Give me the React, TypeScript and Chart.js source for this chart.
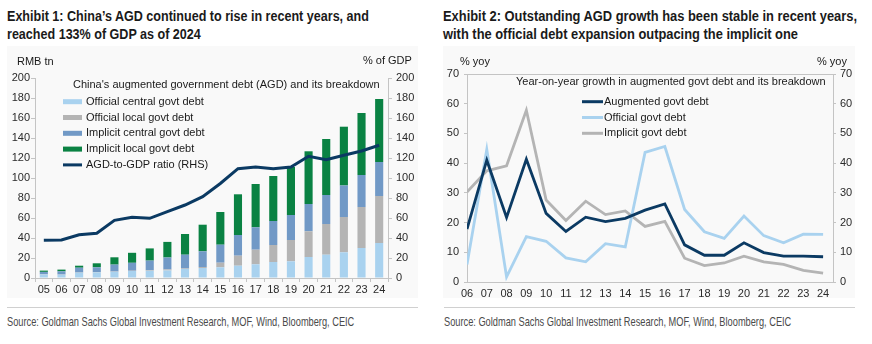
import React, { useEffect, useLayoutEffect, useRef } from 'react';
import { Chart, registerables } from 'chart.js';

Chart.register(...registerables);

// ---------- Exhibit 1 data ----------
const years1 = ['05', '06', '07', '08', '09', '10', '11', '12', '13', '14', '15', '16', '17', '18', '19', '20', '21', '22', '23', '24'];
const officialCentral = [3.5, 3.3, 5.3, 5.6, 6.2, 7.0, 7.2, 7.5, 9.0, 10.0, 10.7, 12.3, 13.7, 16.0, 16.7, 21.0, 23.3, 25.7, 30.0, 35.0];
const officialLocal = [0.2, 0.2, 0.2, 0.2, 0.3, 0.3, 0.6, 1.0, 0.5, 1.0, 4.6, 10.0, 14.6, 17.0, 21.3, 25.7, 30.7, 35.3, 41.0, 47.0];
const implicitCentral = [2.4, 3.2, 4.8, 4.9, 6.9, 7.9, 9.6, 12.0, 13.8, 15.7, 18.0, 20.7, 22.4, 24.0, 25.0, 27.3, 29.0, 31.5, 32.0, 34.0];
const implicitLocal = [1.3, 1.7, 2.0, 4.0, 7.3, 10.0, 12.2, 15.6, 20.7, 26.6, 32.7, 40.7, 43.3, 45.0, 48.0, 52.7, 56.0, 58.8, 62.0, 63.0];
const agdToGdp = [37.7, 38.0, 43.3, 44.7, 57.7, 60.7, 59.7, 66.3, 73.0, 81.3, 94.5, 109.3, 111.0, 109.3, 111.0, 121.7, 118.3, 122.7, 127.0, 132.7];
const leftTicks1 = [0, 20, 40, 60, 80, 100, 120, 140, 160, 180, 200];

// ---------- Exhibit 2 data ----------
const years2 = ['06', '07', '08', '09', '10', '11', '12', '13', '14', '15', '16', '17', '18', '19', '20', '21', '22', '23', '24'];
const augmentedGrowth = [17.8, 41.0, 21.7, 41.3, 23.1, 17.0, 21.8, 20.3, 21.4, 24.2, 26.3, 12.5, 9.0, 9.0, 13.2, 9.9, 8.7, 8.7, 8.5];
const officialGrowth = [5.9, 44.6, 1.7, 15.3, 13.7, 8.1, 6.8, 12.9, 11.8, 43.6, 45.6, 24.4, 16.9, 14.7, 22.2, 15.6, 13.2, 16.1, 16.0];
const implicitGrowth = [30.3, 37.4, 39.1, 57.8, 27.6, 20.7, 27.2, 22.7, 23.9, 18.7, 20.4, 8.0, 5.5, 6.4, 8.7, 6.8, 5.9, 3.9, 3.0];

const NAVY = '#0b3a63';
const LIGHT_BLUE = '#a9d2ef';
const GREY = '#b4b4b4';
const MID_BLUE = '#7199c6';
const GREEN = '#0a8243';
const AXIS = '#c4c4c4';
const TICK_FONT = { family: '"Liberation Sans", Arial, sans-serif', size: 11 };
const TICK_COLOR = '#2a2a2a';

const legendPlugin = {
  id: 'insideLegend',
  afterDatasetsDraw(chart: any, _args: any, opts: any) {
    const { ctx } = chart;
    ctx.save();
    ctx.font = '11px "Liberation Sans", Arial, sans-serif';
    ctx.fillStyle = '#1a1a1a';
    ctx.textBaseline = 'middle';
    ctx.textAlign = 'left';
    ctx.fillText(opts.title, opts.titleX, opts.titleY);
    chart.data.datasets.forEach((ds: any, i: number) => {
      const y = opts.y0 + i * opts.dy;
      const isLine = (ds.type || chart.config.type) === 'line';
      if (isLine) {
        ctx.strokeStyle = ds.borderColor;
        ctx.lineWidth = 3;
        ctx.beginPath();
        ctx.moveTo(opts.markX, y);
        ctx.lineTo(opts.markX + opts.markW, y);
        ctx.stroke();
      } else {
        ctx.fillStyle = ds.backgroundColor;
        ctx.fillRect(opts.markX, y - 2.5, opts.markW, 5);
      }
      ctx.fillStyle = '#1a1a1a';
      ctx.fillText(ds.label, opts.textX, y);
    });
    ctx.restore();
  },
};

function useChart(ref: React.RefObject<HTMLCanvasElement>, build: () => any) {
  useEffect(() => {
    if (!ref.current) return;
    const chart = new Chart(ref.current, build());
    return () => chart.destroy();
  }, []);
}

function Exhibit1Chart() {
  const ref = useRef<HTMLCanvasElement>(null);
  useChart(ref, () => ({
    type: 'bar',
    data: {
      labels: years1,
      datasets: [
        { label: 'Official central govt debt', data: officialCentral, backgroundColor: LIGHT_BLUE, stack: 's', order: 1, barPercentage: 0.46, categoryPercentage: 1 },
        { label: 'Official local govt debt', data: officialLocal, backgroundColor: GREY, stack: 's', order: 1, barPercentage: 0.46, categoryPercentage: 1 },
        { label: 'Implicit central govt debt', data: implicitCentral, backgroundColor: MID_BLUE, stack: 's', order: 1, barPercentage: 0.46, categoryPercentage: 1 },
        { label: 'Implicit local govt debt', data: implicitLocal, backgroundColor: GREEN, stack: 's', order: 1, barPercentage: 0.46, categoryPercentage: 1 },
        { type: 'line', label: 'AGD-to-GDP ratio (RHS)', data: agdToGdp, borderColor: NAVY, backgroundColor: NAVY, borderWidth: 3, pointRadius: 0, tension: 0, yAxisID: 'y1', order: 0 },
      ],
    },
    options: {
      responsive: false,
      animation: false,
      devicePixelRatio: 1,
      layout: { padding: { top: 78, left: 0, right: 0, bottom: 0 } },
      plugins: {
        legend: { display: false },
        tooltip: { enabled: false },
        insideLegend: { title: "China's augmented government debt (AGD) and its breakdown", titleX: 73, titleY: 85, y0: 101.7, dy: 15.8, markX: 63, markW: 19, textX: 86 },
      },
      scales: {
        x: {
          stacked: true,
          offset: true,
          grid: { drawOnChartArea: false, drawTicks: true, tickLength: 4, offset: true, color: AXIS },
          border: { color: AXIS },
          ticks: { font: TICK_FONT, color: TICK_COLOR, padding: 1, maxRotation: 0, autoSkip: false },
          afterFit: (s: any) => { s.height = 22; },
        },
        y: {
          stacked: true,
          position: 'left',
          min: 0,
          max: 200,
          afterBuildTicks: (s: any) => { s.ticks = leftTicks1.map((v) => ({ value: v })); },
          grid: { drawOnChartArea: false, drawTicks: true, tickLength: 4, color: AXIS },
          border: { color: AXIS },
          ticks: { font: TICK_FONT, color: TICK_COLOR, padding: 1 },
          afterFit: (s: any) => { s.width = 35; },
        },
        y1: {
          position: 'right',
          min: 0,
          max: 200,
          afterBuildTicks: (s: any) => { s.ticks = leftTicks1.map((v) => ({ value: v })); },
          grid: { drawOnChartArea: false, drawTicks: true, tickLength: 4, color: AXIS },
          border: { color: AXIS },
          ticks: { font: TICK_FONT, color: TICK_COLOR, padding: 4 },
          afterFit: (s: any) => { s.width = 48; },
        },
      },
    },
    plugins: [legendPlugin],
  }));
  return <canvas ref={ref} width={436} height={300} style={{ position: 'absolute', left: 0, top: 0, width: 436, height: 300 }} />;
}

function Exhibit2Chart() {
  const ref = useRef<HTMLCanvasElement>(null);
  useChart(ref, () => ({
    type: 'line',
    data: {
      datasets: [
        { label: 'Augmented govt debt', data: augmentedGrowth.map((v, i) => ({ x: i, y: v })), borderColor: NAVY, backgroundColor: NAVY, borderWidth: 2.8, pointRadius: 0, tension: 0 },
        { label: 'Official govt debt', data: officialGrowth.map((v, i) => ({ x: i, y: v })), borderColor: LIGHT_BLUE, backgroundColor: LIGHT_BLUE, borderWidth: 2.8, pointRadius: 0, tension: 0 },
        { label: 'Implicit govt debt', data: implicitGrowth.map((v, i) => ({ x: i, y: v })), borderColor: GREY, backgroundColor: GREY, borderWidth: 2.8, pointRadius: 0, tension: 0 },
      ],
    },
    options: {
      responsive: false,
      animation: false,
      devicePixelRatio: 1,
      layout: { padding: { top: 74, left: 0, right: 0, bottom: 0 } },
      plugins: {
        legend: { display: false },
        tooltip: { enabled: false },
        insideLegend: { title: 'Year-on-year growth in augmented govt debt and its breakdown', titleX: 80, titleY: 82, y0: 101.7, dy: 15.8, markX: 146, markW: 21, textX: 168 },
      },
      scales: {
        x: {
          type: 'linear',
          min: 0,
          max: years2.length - 0.5,
          grid: { drawOnChartArea: false, drawTicks: false, color: AXIS },
          border: { color: AXIS },
          ticks: {
            stepSize: 1,
            includeBounds: false,
            font: TICK_FONT,
            color: TICK_COLOR,
            padding: 5,
            maxRotation: 0,
            autoSkip: false,
            callback: (v: number) => (Number.isInteger(v) && years2[v] !== undefined ? years2[v] : ''),
          },
          afterFit: (s: any) => { s.height = 18; },
        },
        y: {
          position: 'left',
          min: 0,
          max: 70,
          grid: { drawOnChartArea: false, drawTicks: true, tickLength: 3, color: AXIS },
          border: { color: AXIS },
          ticks: { stepSize: 10, font: TICK_FONT, color: TICK_COLOR, padding: 5 },
          afterFit: (s: any) => { s.width = 31; },
        },
        y1: {
          position: 'right',
          min: 0,
          max: 70,
          grid: { drawOnChartArea: false, drawTicks: true, tickLength: 3, color: AXIS },
          border: { color: AXIS },
          ticks: { stepSize: 10, font: TICK_FONT, color: TICK_COLOR, padding: 4 },
          afterFit: (s: any) => { s.width = 39; },
        },
      },
    },
    plugins: [
      legendPlugin,
      {
        id: 'topBorder',
        afterDraw(chart: any) {
          const { ctx, chartArea } = chart;
          ctx.save();
          ctx.strokeStyle = AXIS;
          ctx.lineWidth = 1;
          ctx.beginPath();
          ctx.moveTo(chartArea.left, chartArea.top + 0.5);
          ctx.lineTo(chartArea.right, chartArea.top + 0.5);
          ctx.stroke();
          ctx.restore();
        },
      },
    ],
  }));
  return <canvas ref={ref} width={436} height={300} style={{ position: 'absolute', left: 436, top: 0, width: 436, height: 300 }} />;
}

const BASE_FONT = '"Liberation Sans", Arial, sans-serif';

// Text block horizontally squeezed so its widest line matches a target width (condensed look).
function FitText(props: { left: number; top: number; width: number; size: number; lineHeight: number; bold?: boolean; color: string; lines: string[] }) {
  const ref = useRef<HTMLDivElement>(null);
  useLayoutEffect(() => {
    const el = ref.current;
    if (!el) return;
    el.style.transform = 'none';
    const w = el.scrollWidth;
    if (w > 0) el.style.transform = `scaleX(${props.width / w})`;
  }, []);
  return (
    <div
      ref={ref}
      style={{
        position: 'absolute',
        left: props.left,
        top: props.top,
        whiteSpace: 'nowrap',
        display: 'inline-block',
        transformOrigin: '0 0',
        fontFamily: BASE_FONT,
        fontWeight: props.bold ? 700 : 400,
        fontSize: props.size,
        lineHeight: `${props.lineHeight}px`,
        color: props.color,
      }}
    >
      {props.lines.map((l, i) => (
        <div key={i}>{l}</div>
      ))}
    </div>
  );
}

const abs = (extra: React.CSSProperties): React.CSSProperties => ({ position: 'absolute', whiteSpace: 'nowrap', ...extra });

export default function App() {
  useEffect(() => {
    document.body.style.margin = '0';
    document.body.style.background = '#ffffff';
  }, []);
  return (
    <div style={{ position: 'fixed', left: 0, top: 0, width: 872, height: 344, background: '#ffffff', overflow: 'hidden' }}>
      <div style={abs({ left: 7, top: 46, width: 411, height: 252, background: '#f9f9f9' })} />
      <div style={abs({ left: 443, top: 46, width: 412, height: 252, background: '#f9f9f9' })} />
      <div style={abs({ left: 7, top: 307, width: 411, height: 1, background: '#d0d0d0' })} />
      <div style={abs({ left: 444, top: 307, width: 411, height: 1, background: '#d0d0d0' })} />

      <FitText left={7} top={8} width={362} size={14.5} lineHeight={17.6} bold color="#1a1a1a"
        lines={['Exhibit 1: China’s AGD continued to rise in recent years, and', 'reached 133% of GDP as of 2024']} />
      <FitText left={443} top={8} width={414} size={14.5} lineHeight={17.6} bold color="#1a1a1a"
        lines={['Exhibit 2: Outstanding AGD growth has been stable in recent years,', 'with the official debt expansion outpacing the implicit one']} />

      <Exhibit1Chart />
      <Exhibit2Chart />

      <div style={abs({ left: 17, top: 55, fontFamily: BASE_FONT, fontSize: 11, color: '#1a1a1a' })}>RMB tn</div>
      <div style={abs({ left: 363, top: 54, fontFamily: BASE_FONT, fontSize: 11, color: '#1a1a1a' })}>% of GDP</div>
      <div style={abs({ left: 460, top: 55, fontFamily: BASE_FONT, fontSize: 11, color: '#1a1a1a' })}>% yoy</div>
      <div style={abs({ left: 817, top: 55, fontFamily: BASE_FONT, fontSize: 11, color: '#1a1a1a' })}>% yoy</div>

      <FitText left={7} top={314} width={347} size={13} lineHeight={15} color="#4a4a4a"
        lines={['Source: Goldman Sachs Global Investment Research, MOF, Wind, Bloomberg, CEIC']} />
      <FitText left={444} top={314} width={347} size={13} lineHeight={15} color="#4a4a4a"
        lines={['Source: Goldman Sachs Global Investment Research, MOF, Wind, Bloomberg, CEIC']} />
    </div>
  );
}
